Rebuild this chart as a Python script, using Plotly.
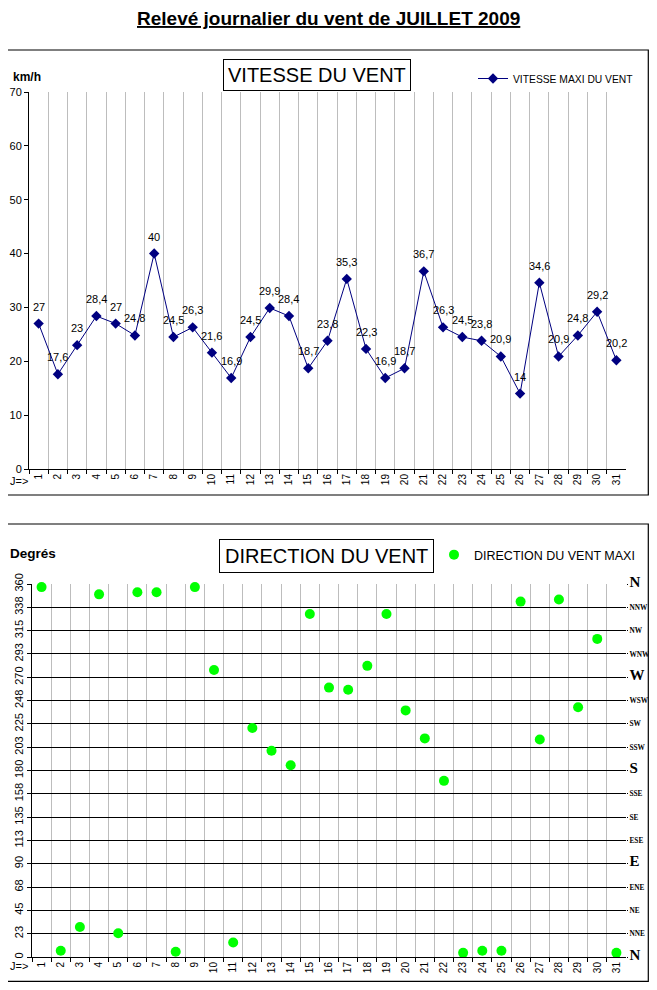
import plotly.graph_objects as go

days = list(range(1, 32))
speed = [27, 17.6, 23, 28.4, 27, 24.8, 40, 24.5, 26.3, 21.6, 16.9, 24.5, 29.9, 28.4, 18.7,
         23.8, 35.3, 22.3, 16.9, 18.7, 36.7, 26.3, 24.5, 23.8, 20.9, 14, 34.6, 20.9, 24.8, 29.2, 20.2]
direction = [357, 6, 29, 350, 23, 352, 352, 5, 357, 277, 14, 221, 199, 185, 331,
             260, 258, 281, 331, 238, 211, 170, 4, 6, 6, 343, 210, 345, 241, 307, 4]
deg_ticks = [i * 22.5 for i in range(17)]
deg_labels = ["0", "23", "45", "68", "90", "113", "135", "158", "180", "203", "225",
              "248", "270", "293", "315", "338", "360"]
compass = ["N", "NNE", "NE", "ENE", "E", "ESE", "SE", "SSE", "S", "SSW", "SW", "WSW",
           "W", "WNW", "NW", "NNW", "N"]

# the page body adds an 8px margin all round; the figure fills the area inside it
OFF = 8
W, H = 657 - 2 * OFF, 990 - 2 * OFF
def px(x): return (x - OFF) / W
def py(y): return 1 - (y - OFF) / H

SANS = "Arial, Liberation Sans, sans-serif"
SERIF = "Times New Roman, Liberation Serif, serif"

fig = go.Figure()
fig.add_trace(go.Scatter(
    x=days, y=speed, mode="lines+markers", name="VITESSE MAXI DU VENT",
    line=dict(color="#000080", width=1),
    marker=dict(symbol="diamond", size=8, color="#000080"),
    xaxis="x", yaxis="y", legend="legend", cliponaxis=False))
fig.add_trace(go.Scatter(
    x=days, y=direction, mode="markers", name="DIRECTION DU VENT MAXI",
    marker=dict(symbol="circle", size=10, color="#00FF00"),
    xaxis="x2", yaxis="y2", legend="legend2", cliponaxis=False))
fig.add_trace(go.Scatter(
    x=days, y=direction, mode="markers", showlegend=False, hoverinfo="skip",
    marker=dict(size=1, opacity=0), xaxis="x2", yaxis="y3"))

def fmt(v):
    return ("%g" % v).replace(".", ",")

annotations = []
for d, v in zip(days, speed):
    annotations.append(dict(x=d, y=v, xref="x", yref="y", text=fmt(v), showarrow=False,
                            xanchor="center", yanchor="middle",
                            yshift=17, font=dict(family=SANS, size=11, color="#000")))

xcommon = dict(range=[0.5, 31.5], tickmode="array", tickvals=days, ticktext=[str(d) for d in days],
               tickangle=-90, ticks="", showgrid=False, showline=True, linecolor="black", linewidth=1,
               tickfont=dict(family=SANS, size=10, color="#000"), zeroline=False, automargin=False,
               minor=dict(tickmode="array", tickvals=[k + 0.5 for k in range(31)], ticks="outside",
                          ticklen=4, tickcolor="black", showgrid=True, gridcolor="#bdbdbd", gridwidth=1))

def note(x, y, text, size, **kw):
    d = dict(x=px(x), y=py(y), xref="paper", yref="paper", showarrow=False, text=text,
             xanchor="center", yanchor="middle", font=dict(family=SANS, size=size, color="#000"))
    d.update(kw)
    return d

fig.update_layout(
    width=W, height=H, margin=dict(l=0, r=0, t=0, b=0, autoexpand=False),
    paper_bgcolor="white", plot_bgcolor="white",
    font=dict(family=SANS, color="#000"),
    xaxis=dict(domain=[px(29), px(626)], anchor="y", **xcommon),
    yaxis=dict(domain=[py(469), py(92)], anchor="x", range=[0, 70], dtick=10, ticks="outside",
               ticklen=4, tickcolor="black", showline=True, linecolor="black", showgrid=False,
               zeroline=False, automargin=False, tickfont=dict(family=SANS, size=11, color="#000")),
    xaxis2=dict(domain=[px(32), px(626)], anchor="y2", **xcommon),
    yaxis2=dict(domain=[py(957), py(584)], anchor="x2", range=[0, 360], tickmode="array",
                tickvals=deg_ticks, ticktext=deg_labels, tickangle=-90, ticks="outside", ticklen=4,
                tickcolor="black", showline=True, linecolor="black", showgrid=True,
                gridcolor="black", gridwidth=1, zeroline=False, automargin=False,
                tickfont=dict(family=SANS, size=11, color="#000")),
    yaxis3=dict(domain=[py(957), py(584)], anchor="x2", overlaying="y2", side="right",
                range=[0, 360], tickmode="array", tickvals=deg_ticks,
                ticktext=[("<b><span style='font-size:15px'>%s</span></b>" % c) if len(c) == 1
                          else "<b>%s</b>" % c for c in compass],
                ticks="outside", ticklen=1, tickcolor="black", showline=False, showgrid=False,
                zeroline=False, automargin=False, ticklabelstandoff=0,
                tickfont=dict(family=SERIF, size=7.3, color="#000")),
    legend=dict(x=px(473), y=py(64), xanchor="left", yanchor="top", bgcolor="rgba(0,0,0,0)",
                font=dict(family=SANS, size=10.3, color="#000"), itemwidth=30),
    legend2=dict(x=px(434), y=py(540), xanchor="left", yanchor="top", bgcolor="rgba(0,0,0,0)",
                 font=dict(family=SANS, size=12.5, color="#000"), itemwidth=30),
    annotations=annotations + [
        note(328, 18.5, "<b><u>Relevé journalier du vent de JUILLET 2009</u></b>", 19),
        note(317, 75.5, "VITESSE DU VENT", 20, bordercolor="black", borderwidth=1, borderpad=4,
             bgcolor="white"),
        note(326.5, 555.5, "DIRECTION DU VENT", 20, bordercolor="black", borderwidth=1,
             borderpad=5, bgcolor="white"),
        note(27, 77, "<b>km/h</b>", 12),
        note(33, 553, "<b>Degrés</b>", 13.5),
        note(19, 481, "J=>", 11),
        note(19, 966, "J=>", 11),
    ],
    shapes=[
        dict(type="rect", xref="paper", yref="paper", x0=px(-2), x1=px(648.3), y0=py(495), y1=py(50),
             line=dict(color="black", width=1.2), layer="below"),
        dict(type="rect", xref="paper", yref="paper", x0=px(-2), x1=px(648.3), y0=py(981.3), y1=py(524),
             line=dict(color="black", width=1.2), layer="below"),
    ],
)

fig.write_html("out.html")
